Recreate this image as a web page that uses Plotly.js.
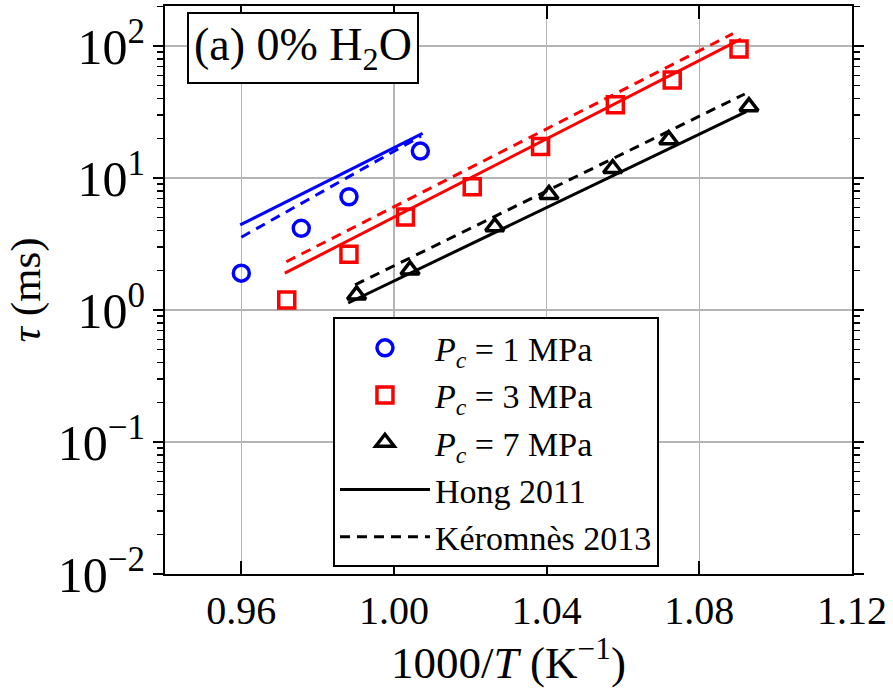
<!DOCTYPE html>
<html>
<head>
<meta charset="utf-8">
<script src="https://cdn.plot.ly/plotly-3.0.1.min.js"></script>
<style>html,body{margin:0;padding:0;background:#fff;}</style>
</head>
<body>
<div id="chart" style="width:893px;height:688px;"></div>
<script>
// Experimental ignition delay data (1000/T, tau in ms)
const x1MPa = [0.960, 0.9757, 0.9882, 1.0069];
const tau1MPa = [1.90, 4.16, 7.21, 16.0];
const x3MPa = [0.9719, 0.9882, 1.0030, 1.0205, 1.0384, 1.0580, 1.0729, 1.0904];
const tau3MPa = [1.19, 2.65, 5.07, 8.59, 17.3, 35.9, 55.2, 94.9];
const x7MPa = [0.9902, 1.0042, 1.0264, 1.0406, 1.0573, 1.0720, 1.0930];
const tau7MPa = [1.30, 2.01, 4.28, 7.5, 11.8, 19.5, 34.7];

// Model predictions
const hong1X = [0.9597, 1.0075];  const hong1Tau = [4.41, 21.8];
const ker1X  = [0.9600, 1.0071];  const ker1Tau  = [3.56, 20.8];
const hong3X = [0.9714, 1.0909];  const hong3Tau = [1.90, 112.7];
const ker3X  = [0.9718, 1.0888];  const ker3Tau  = [2.32, 124.0];
const hong7X = [0.9880, 1.0923];  const hong7Tau = [1.13, 31.8];
const ker7X  = [0.9898, 1.0919];  const ker7Tau  = [1.55, 43.3];

const xTicks = [0.96, 1.00, 1.04, 1.08, 1.12];
const xTickText = ['0.96', '1.00', '1.04', '1.08', '1.12'];
const yLabelAlias = {'1': '10<sup>0</sup>', '10': '10<sup>1</sup>'};

const FONT = 'Liberation Serif, Times New Roman, serif';
const DASH = '10px,7px';

function line(x, y, color, dash, name, show) {
  return {x: x, y: y, mode: 'lines', type: 'scatter', name: name, showlegend: show,
          line: {color: color, width: 3, dash: dash}, hoverinfo: 'skip'};
}
function pts(x, y, symbol, color, size, name) {
  return {x: x, y: y, mode: 'markers', type: 'scatter', name: name,
          marker: {symbol: symbol, size: size, color: 'rgba(255,255,255,0)',
                   line: {color: color, width: 3.5}}};
}

const traces = [
  pts(x1MPa, tau1MPa, 'circle', '#0000ff', 16, '<i>P</i><sub><i>c</i></sub> = 1 MPa'),
  pts(x3MPa, tau3MPa, 'square', '#ff0000', 16, '<i>P</i><sub><i>c</i></sub> = 3 MPa'),
  pts(x7MPa, tau7MPa, 'triangle-up', '#000000', 16, '<i>P</i><sub><i>c</i></sub> = 7 MPa'),
  line(hong7X, hong7Tau, '#000000', 'solid', 'Hong 2011', true),
  line(ker7X, ker7Tau, '#000000', DASH, 'Kéromnès 2013', true),
  line(hong1X, hong1Tau, '#0000ff', 'solid', 'h1', false),
  line(ker1X, ker1Tau, '#0000ff', DASH, 'k1', false),
  line(hong3X, hong3Tau, '#ff0000', 'solid', 'h3', false),
  line(ker3X, ker3Tau, '#ff0000', DASH, 'k3', false)
];

const layout = {
  width: 893, height: 688,
  margin: {l: 165, r: 41, t: 6, b: 114},
  font: {family: FONT, size: 36, color: '#000'},
  showlegend: true,
  legend: {
    x: 0.2445, y: 0.452, xanchor: 'left', yanchor: 'top',
    bgcolor: '#fff', bordercolor: '#000', borderwidth: 2,
    font: {family: FONT, size: 34, color: '#000'},
    itemwidth: 90, traceorder: 'normal', tracegroupgap: 0
  },
  xaxis: {
    range: [0.94, 1.12], tickmode: 'array', tickvals: xTicks, ticktext: xTickText,
    ticks: 'inside', ticklen: 13, tickwidth: 2, tickcolor: '#000',
    showline: true, linecolor: '#000', linewidth: 2, mirror: 'allticks',
    showgrid: true, gridcolor: '#b5b5b5', gridwidth: 1.5,
    tickfont: {family: FONT, size: 40},
    title: {text: '1000/<i>T</i> (K<sup>−1</sup>)', font: {family: FONT, size: 45}, standoff: 8}
  },
  yaxis: {
    type: 'log', range: [-2, 2.303], dtick: 1,
    exponentformat: 'power', labelalias: yLabelAlias,
    ticks: 'outside', ticklen: 10, tickwidth: 2, tickcolor: '#000',
    showline: true, linecolor: '#000', linewidth: 2, mirror: 'allticks',
    showgrid: true, gridcolor: '#b5b5b5', gridwidth: 1.5,
    tickfont: {family: FONT, size: 40},
    minor: {ticks: 'outside', ticklen: 6, tickwidth: 1.5, tickcolor: '#000'},
    title: {text: '<i>τ</i> (ms)', font: {family: FONT, size: 43}, standoff: 4}
  },
  annotations: [{
    xref: 'paper', yref: 'paper', x: 0.032, y: 0.99, xanchor: 'left', yanchor: 'top',
    text: '(a) 0% H<sub>2</sub>O', showarrow: false,
    font: {family: FONT, size: 46, color: '#000'},
    bgcolor: '#fff', bordercolor: '#000', borderwidth: 2, borderpad: 5
  }]
};

Plotly.newPlot('chart', traces, layout, {displayModeBar: false, staticPlot: true});
</script>
</body>
</html>
